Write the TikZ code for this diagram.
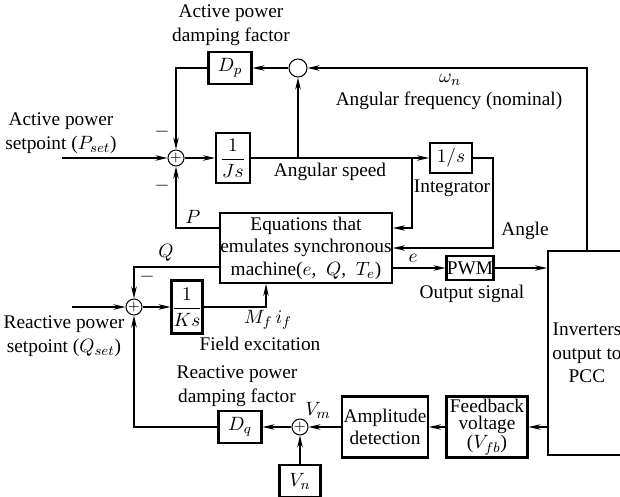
\documentclass[tikz,border=0pt]{standalone}
\usepackage{amsmath}
\usepackage{fontspec}
\setmainfont{Liberation Serif}
\usetikzlibrary{calc,arrows.meta}

\begin{document}
\begin{tikzpicture}[-,line width=0.6pt,>={Stealth[length=2.4mm,width=1.1mm]},color=black,
    x=0.02cm,y=-0.02cm,font=\fontsize{11}{13.5}\selectfont,
    blk/.style={draw,line width=1.2pt,inner sep=0pt,align=center},
    sumnode/.style={draw,circle,minimum size=0.32cm,inner sep=0pt,font=\footnotesize},
    lbl/.style={align=center,inner sep=1pt}]
    \useasboundingbox (0,0) rectangle (620,497);
    % blocks
    \node[sumnode,minimum size=0.36cm] (wn) at (298,68) {};
    \node[blk,minimum width=0.86cm,minimum height=0.64cm] (dp) at (230,68) {$D_p$};
    \node[sumnode] (s1) at (176,158) {$+$};
    \node[blk,minimum width=0.68cm,minimum height=1.0cm] (js) at (233,158) {$\dfrac{1}{Js}$};
    \node[blk,minimum width=0.84cm,minimum height=0.6cm] (integ) at (451,158) {$1/s$};
    \node[blk,minimum width=3.44cm,minimum height=1.4cm,font=\fontsize{11}{12.8}\selectfont] (eq) at (306,248)
        {Equations that\\emulates synchronous\\machine($e$,~~$Q$,~~$T_e$)};
    \node[blk,minimum width=0.94cm,minimum height=0.48cm] (pwm) at (470,268) {PWM};
    \node[sumnode] (s2) at (134,307) {$+$};
    \node[blk,minimum width=0.62cm,minimum height=1.06cm] (ks) at (187,307) {$\dfrac{1}{Ks}$};
    \node[sumnode] (s3) at (300,427) {$+$};
    \node[blk,minimum width=0.86cm,minimum height=0.64cm] (dq) at (240,427) {$D_q$};
    \node[blk,minimum width=0.82cm,minimum height=0.64cm] (vn) at (300,481) {$V_n$};
    \node[blk,minimum width=1.72cm,minimum height=1.22cm,font=\fontsize{11}{12.5}\selectfont] (amp) at (385,427) {Amplitude\\detection};
    \node[blk,minimum width=1.62cm,minimum height=1.22cm,font=\fontsize{11}{9.6}\selectfont] (fb) at (487,427) {Feedback\\voltage\\($V_{fb}$)};
    \node[blk,minimum width=1.56cm,minimum height=4.08cm] (inv) at (587,353) {Inverters\\output to\\PCC};
    \coordinate (pset) at (62,158);
    \coordinate (qset) at (72,307);
    \coordinate (br1) at (298,158);
    \coordinate (br2) at (412,158);
    \coordinate (angc) at (493,158);
    % active power loop
    \draw[->] (inv.north) |- (wn.east);
    \draw[->] (wn.west) -- (dp.east);
    \draw[->] (dp.west) -| (s1.north);
    \draw[->] (pset) -- (s1.west);
    \draw[->] (s1.east) -- (js.west);
    \draw[->] (js.east) -- (integ.west);
    \draw[->] (br1) -- (wn.south);
    \draw[->] (br2) |- ($(eq.east)+(0,-20)$);
    \draw[->] (integ.east) -- (angc) |- (eq.east);
    \draw[->] ($(eq.west)+(0,-20)$) -| (s1.south);
    % reactive power loop
    \draw[->] ($(eq.west)+(0,19)$) -| (s2.north);
    \draw[->] (qset) -- (s2.west);
    \draw[->] (s2.east) -- (ks.west);
    \draw[->] (ks.east) -| ($(eq.south)+(-40,0)$);
    \draw[->] ($(eq.east)+(0,20)$) -- (pwm.west);
    \draw[->] (pwm.east) -- (pwm.east -| inv.west);
    \draw[->] (fb.east -| inv.west) -- (fb.east);
    \draw[->] (fb.west) -- (amp.east);
    \draw[->] (amp.west) -- (s3.east);
    \draw[->] (vn.north) -- (s3.south);
    \draw[->] (s3.west) -- (dq.east);
    \draw[->] (dq.west) -| (s2.south);
    % labels
    \node[lbl] (l1) at (231,25) {Active power\\damping factor};
    \node[lbl] (l2) at (61,133) {Active power\\setpoint ($P_{set}$)};
    \node[lbl] (m1) at (162,132) {$-$};
    \node[lbl] (m2) at (162,186) {$-$};
    \node[lbl] (l3) at (330,172) {Angular speed};
    \node[lbl] (l4) at (452,188) {Integrator};
    \node[lbl] (l5) at (525,231) {Angle};
    \node[lbl] (l6) at (450,80) {$\omega_n$};
    \node[lbl] (l7) at (449,101) {Angular frequency (nominal)};
    \node[lbl] (l8) at (193,217) {$P$};
    \node[lbl] (l9) at (166,253) {$Q$};
    \node[lbl] (m3) at (147,277) {$-$};
    \node[lbl] (l10) at (413,258) {$e$};
    \node[lbl] (l11) at (472,294) {Output signal};
    \node[lbl] (l12) at (64,336) {Reactive power\\setpoint ($Q_{set}$)};
    \node[lbl] (l13) at (268,320) {$M_f\,i_f$};
    \node[lbl] (l14) at (260,344) {Field excitation};
    \node[lbl] (l15) at (237,386) {Reactive power\\damping factor};
    \node[lbl] (l16) at (318,410) {$V_m$};
\end{tikzpicture}
\end{document}
